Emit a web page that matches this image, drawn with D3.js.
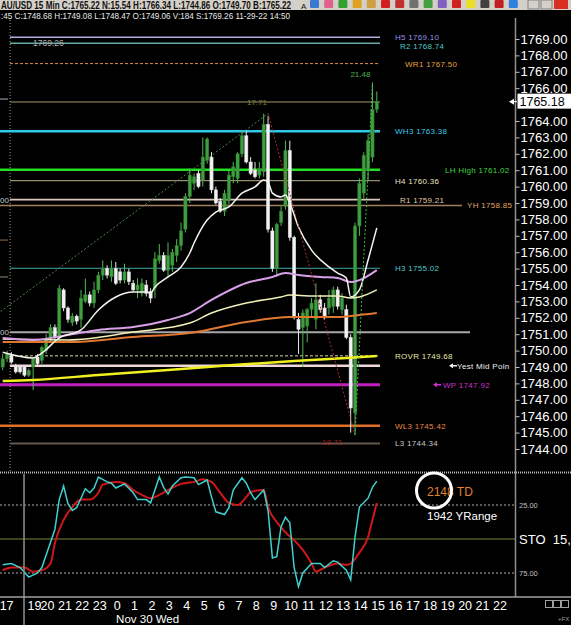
<!DOCTYPE html>
<html><head><meta charset="utf-8">
<script src="https://cdn.jsdelivr.net/npm/d3@7"></script>
<style>
body{margin:0;background:#000;overflow:hidden}
svg{display:block}
text{font-family:"Liberation Sans",Arial,sans-serif}
</style></head>
<body><svg id="c" width="571" height="625"></svg>
<script>
// ---------------- DATA ----------------
const barOpen  = [1749.0,1749.5,1749.7,1749.1,1749.0,1749.0,1748.5,1749.0,1749.6,1749.4,1750.0,1750.7,1751.4,1750.8,1753.7,1752.6,1751.7,1752.1,1751.9,1753.0,1753.4,1752.9,1753.7,1754.6,1755.0,1754.5,1755.0,1754.8,1754.3,1754.8,1754.1,1753.7,1753.5,1754.0,1753.6,1753.8,1755.5,1755.8,1754.9,1755.2,1755.8,1756.4,1757.4,1759.4,1760.2,1760.8,1760.4,1761.6,1761.8,1759.8,1759.1,1758.5,1759.2,1760.6,1760.5,1762.0,1763.1,1761.5,1761.0,1760.7,1760.9,1763.8,1757.3,1755.0,1757.8,1758.8,1762.2,1756.9,1751.9,1751.4,1751.5,1752.5,1751.9,1753.1,1752.6,1752.6,1752.7,1753.7,1752.5,1752.5,1750.8,1746.2,1757.6,1759.6,1761.0,1761.8,1764.7];
const barHigh  = [1749.8,1750.0,1749.9,1749.2,1749.1,1749.1,1748.9,1749.6,1749.8,1750.3,1751.0,1751.6,1751.6,1754.0,1753.8,1752.7,1752.3,1752.2,1753.7,1754.4,1753.6,1754.2,1754.8,1755.5,1755.2,1755.5,1755.4,1755.0,1755.3,1755.0,1754.3,1754.4,1754.4,1754.3,1753.8,1756.0,1756.5,1756.0,1756.6,1756.2,1756.8,1757.8,1759.6,1761.1,1760.8,1761.0,1763.0,1763.0,1762.1,1760.0,1759.3,1759.8,1761.0,1761.5,1762.1,1763.4,1763.4,1761.8,1761.5,1761.5,1764.45,1764.3,1757.5,1757.8,1758.8,1762.8,1762.8,1757.0,1752.3,1752.5,1752.6,1753.2,1754.1,1753.4,1752.9,1753.7,1753.9,1753.9,1753.5,1752.8,1751.0,1757.8,1760.5,1762.1,1763.2,1766.34,1765.8];
const barLow   = [1748.8,1749.3,1749.2,1748.6,1748.6,1748.4,1748.4,1747.6,1749.1,1749.2,1749.8,1750.5,1750.6,1750.6,1752.4,1751.7,1751.5,1751.6,1751.4,1752.9,1752.7,1752.6,1753.5,1754.3,1754.4,1754.2,1754.0,1754.1,1754.1,1754.0,1753.6,1753.2,1753.3,1753.3,1752.9,1753.2,1755.3,1754.8,1754.5,1754.8,1755.4,1756.1,1757.2,1759.0,1759.8,1759.9,1760.0,1761.4,1759.6,1758.9,1758.4,1758.2,1758.9,1760.2,1760.2,1761.8,1761.4,1760.7,1760.5,1760.5,1760.6,1757.2,1754.8,1754.5,1757.6,1758.6,1756.7,1751.9,1749.8,1749.0,1750.5,1752.0,1751.3,1752.3,1751.9,1752.2,1752.3,1752.5,1752.2,1750.7,1745.0,1744.86,1757.0,1759.3,1760.4,1761.5,1764.5];
const barClose = [1749.5,1749.8,1749.3,1748.7,1748.7,1748.5,1748.8,1749.5,1749.2,1750.2,1750.7,1751.4,1750.8,1753.8,1752.6,1751.9,1752.1,1751.8,1753.2,1753.4,1752.9,1753.7,1754.6,1755.0,1754.6,1755.0,1754.1,1754.3,1754.8,1754.2,1753.7,1754.0,1754.1,1753.5,1753.2,1755.6,1755.8,1754.9,1755.8,1756.0,1756.4,1757.3,1759.4,1760.7,1760.6,1760.0,1761.8,1762.9,1759.8,1759.0,1758.5,1759.6,1760.7,1761.2,1762.0,1763.1,1761.5,1760.8,1760.6,1761.1,1763.8,1757.4,1755.0,1757.7,1758.5,1762.2,1756.9,1752.0,1751.3,1752.3,1752.5,1752.9,1753.1,1752.5,1752.0,1753.2,1753.7,1752.7,1753.2,1750.8,1746.5,1757.6,1760.2,1761.9,1762.8,1764.7,1765.18];

// moving averages: [bar index, price]
const maWhite  = [[0,1749.9],[7,1749.55],[9,1749.85],[13,1750.77],[18,1751.26],[22,1752.48],[26,1753.27],[30,1753.57],[33,1753.57],[34,1753.51],[35,1753.88],[38,1754.49],[41,1755.1],[43,1755.95],[44,1756.56],[47,1757.96],[49,1758.45],[52,1758.76],[55,1759.6],[58,1759.98],[60,1760.4],[61,1760.28],[62,1759.6],[64,1759.37],[65,1759.49],[66,1759.0],[68,1757.54],[71,1756.13],[75,1755.1],[77,1754.73],[79,1754.43],[80,1753.27],[82,1753.7],[84,1755.52],[86,1757.48]];
const maPink   = [[0,1750.77],[7,1750.65],[15,1750.95],[22,1751.26],[30,1751.44],[38,1751.87],[43,1752.29],[48,1753.09],[56,1754.12],[62,1754.49],[65,1754.73],[68,1754.61],[73,1754.49],[77,1754.43],[80,1754.18],[82,1754.3],[86,1754.91]];
const maCream  = [[0,1750.7],[15,1750.65],[30,1751.13],[43,1751.68],[48,1752.29],[56,1752.9],[64,1753.27],[66,1753.39],[71,1753.33],[77,1753.33],[80,1753.21],[82,1753.27],[86,1753.7]];
const maOrange = [[0,1750.52],[15,1750.52],[30,1750.83],[43,1751.07],[56,1751.74],[66,1752.05],[77,1752.05],[82,1752.17],[86,1752.29]];
const maYellow = [[0,1748.15],[7,1748.21],[22,1748.51],[38,1748.82],[53,1749.12],[67,1749.37],[79,1749.55],[86,1749.67]];

// pivot levels
const levelNames  = ["H5","R2","WR1","WH3","LH High","H4","R1","YH","H3","ROVR","Yest Mid Poin","WP","WL3","L3"];
const levelValues = [1769.10,1768.74,1767.50,1763.38,1761.02,1760.36,1759.21,1758.85,1755.02,1749.68,1749.08,1747.92,1745.42,1744.34];
const extraLevels = [1765.16,1751.12];
const stubLevels  = [1765.34,1756.74,1754.49];
const sLabel = "1769.26";

// swing lines: [bar index, price]
const swingPoints = [[-33,1746.0],[61,1764.45],[81,1744.86],[85,1766.34]];
const swingLabels = ["17.71","-18.71","21.48"];

// stochastic: [bar index, value]
const stoK = [[0,69],[2,68],[4,71],[6,78],[8,75],[9,71],[12,43],[13,21],[14,11],[15,24],[16,29],[17,27],[19,13],[20,16],[21,12.5],[22,4.4],[24,8],[25,9],[26,12.5],[28,9.5],[30,16],[31,21],[33,21],[34,23.5],[36,4.4],[37,12],[38,17],[39,11],[41,5],[42,4.4],[44,5],[45,10],[47,6.6],[48,19],[49,30],[51,32],[52,27],[53,14],[55,5],[56,9],[57,16],[58,21],[60,14],[61,29],[62,64],[63,63],[64,41],[65,34],[66,38],[67,71],[68,85],[69,75],[71,68],[73,68],[74,71],[76,66],[77,67],[79,73],[80,80],[81,48.5],[82,26.5],[84,20],[85,12],[86,7.4]];
const stoD = [[0,73],[2,71],[5,71],[7,74],[9,73],[11,68],[12,53],[14,36],[16,26.5],[18,21],[20,21],[22,16],[23,10],[26,8],[28,9],[30,14],[32,17.6],[34,20],[36,17.6],[38,14],[41,9.5],[44,8],[46,6],[48,8],[50,16],[52,23.5],[54,25],[56,19],[57,15.4],[60,14],[61,26.5],[63,37.5],[65,45],[67,51],[69,58],[71,68],[72,74],[74,71],[77,68],[79,69],[80,68],[82,60],[84,48.5],[85,36],[86,23.5]];
const stoLevels = [25,50,75];

// price axis ticks (1765.00 is covered by the last-price box)
const priceTicks = [1744,1745,1746,1747,1748,1749,1750,1751,1752,1753,1754,1755,1756,1757,1758,1759,1760,1761,1762,1763,1764,1766,1767,1768,1769];

// time axis
const timeLabels = ["17","19","20","21","22","23","0","1","2","3","4","5","6","7","8","9","10","11","12","13","14","15","16","17","18","19","20","21","22"];
const timeHours  = [-6.35,-4.75,-4,-3,-2,-1,0,1,2,3,4,5,6,7,8,9,10,11,12,13,14,15,16,17,18,19,20,21,22];
const sessionBreakHour = -5.35;
const dateLabel = "Nov 30 Wed";

const headerLine1 = "AU/USD 15 Min C:1765.22 N:15.54 H:1766.34 L:1744.86 O:1749.70 B:1765.22";
const headerLine2 = ":45 C:1748.68 H:1749.08 L:1748.47 O:1749.06 V:184 S:1769.26 11-29-22 14:50";
const lastPrice = 1765.18;
const tdText = ["2148","TD"], yRangeText = "1942 YRange";

// ---------------- DRAW ----------------
const svg = d3.select("#c");
const x = d3.scaleLinear().domain([0,86]).range([2.7,376.8]);
const y = d3.scaleLinear().domain([1744,1769]).range([449,39]);
const yo = d3.scaleLinear().domain([0,100]).range([471,607]);
const hourX = h => x(26.3 + 4*h);

svg.append("rect").attr("width",571).attr("height",625).attr("fill","#000");
const defs = svg.append("defs");
defs.append("clipPath").attr("id","mainClip").append("rect").attr("x",0).attr("y",20).attr("width",515).attr("height",451);
defs.append("clipPath").attr("id","oscClip").append("rect").attr("x",0).attr("y",474).attr("width",515).attr("height",122);

// header
svg.append("rect").attr("x",0).attr("y",0).attr("width",571).attr("height",10).attr("fill","#d4d0c8");
svg.append("text").attr("transform","translate(1,8.5) scale(1,1.3)").attr("font-size",7.8).attr("font-weight","bold").attr("fill","#101010")
  .attr("textLength",290).attr("lengthAdjust","spacingAndGlyphs").text(headerLine1);
svg.append("text").attr("x",301).attr("y",8.5).attr("font-size",8).attr("fill","#101010").text("A");
const iconColors = ["#3a7ad0","#e06090","#30a030","#e0a020","#d0a040","#d02020","#c03030","#707070","#40a040","#8060c0","#d02020","#e8e020","#404040","#c02020","#3080e0"];
iconColors.forEach((c,i)=>{
  svg.append("rect").attr("x",310+i*14.2).attr("y",0).attr("width",9).attr("height",8).attr("fill",c).attr("rx",1);
});
[528,541].forEach(px=>svg.append("rect").attr("x",px).attr("y",0).attr("width",11).attr("height",9).attr("fill","#d4d0c8").attr("stroke","#808080"));
svg.append("rect").attr("x",554).attr("y",0).attr("width",14).attr("height",9).attr("fill","#d83020");
svg.append("text").attr("x",1).attr("y",18.5).attr("font-size",9.5).attr("fill","#e8e8e8")
  .attr("textLength",289).attr("lengthAdjust","spacingAndGlyphs").text(headerLine2);

// ---------- main panel ----------
const main = svg.append("g").attr("clip-path","url(#mainClip)");

main.append("line").attr("x1",x(1.7)).attr("x2",x(1.7)).attr("y1",20).attr("y2",471)
  .attr("stroke","#a0a0a0").attr("stroke-dasharray","1,2");

const stubColors = ["#9090a0","#806040","#807060"];
stubLevels.forEach((v,i)=>main.append("line").attr("x1",0).attr("x2",8).attr("y1",y(v)).attr("y2",y(v)).attr("stroke",stubColors[i]).attr("stroke-width",1.2));
[levelValues[6], extraLevels[1]].forEach(v=>main.append("text").attr("x",0).attr("y",y(v)+3).attr("font-size",8).attr("fill","#c8c8c8").text("00"));

const lvlStyle = {
  "H5":{c:"#b8a8e0",w:1.5,x0:10,x1:380,lc:"#9a90e8",lx:395},
  "R2":{c:"#6aa8a8",w:1.5,x0:10,x1:380,lc:"#50c8c8",lx:400,dy:3},
  "WR1":{c:"#e09040",w:1,x0:10,x1:380,dash:"3,2",lc:"#e0a040",lx:405},
  "WH3":{c:"#30c8e8",w:2.5,x0:0,x1:380,lc:"#40c8e8",lx:395},
  "LH High":{c:"#20e020",w:2.5,x0:0,x1:380,lc:"#40d840",lx:445},
  "H4":{c:"#b8b088",w:1,x0:10,x1:380,lc:"#e8e0c0",lx:395},
  "R1":{c:"#d8c8c0",w:1.8,x0:10,x1:380,lc:"#e0c8a8",lx:400},
  "YH":{c:"#a08060",w:1.5,x0:0,x1:462,lc:"#e0a868",lx:467},
  "H3":{c:"#40a8a8",w:1,x0:10,x1:380,lc:"#50c8d0",lx:395},
  "ROVR":{c:"#d8d8a0",w:1,x0:10,x1:380,dash:"3,2",lc:"#e8e8a8",lx:395},
  "Yest Mid Poin":{c:"#f0d8d8",w:2.5,x0:10,x1:380,lc:"#f0f0f0",lx:457,arrow:449,noVal:true},
  "WP":{c:"#c020c0",w:3,x0:0,x1:380,lc:"#d030d0",lx:443,arrow:433},
  "WL3":{c:"#e07028",w:2.5,x0:0,x1:380,lc:"#e88848",lx:395},
  "L3":{c:"#605850",w:2,x0:10,x1:380,lc:"#c8c8c8",lx:395}
};
const extraStyle = [{c:"#a89868",w:1,x0:10,x1:380},{c:"#a8a8a8",w:2,x0:10,x1:470}];
extraLevels.forEach((v,i)=>{
  const s=extraStyle[i];
  main.append("line").attr("x1",s.x0).attr("x2",s.x1).attr("y1",y(v)).attr("y2",y(v)).attr("stroke",s.c).attr("stroke-width",s.w);
});
levelNames.forEach((n,i)=>{
  const s=lvlStyle[n], v=levelValues[i];
  const l=main.append("line").attr("x1",s.x0).attr("x2",s.x1).attr("y1",y(v)).attr("y2",y(v)).attr("stroke",s.c).attr("stroke-width",s.w);
  if(s.dash) l.attr("stroke-dasharray",s.dash);
  if(s.arrow!==undefined){
    const ay=y(v);
    main.append("path").attr("d",`M${s.arrow},${ay} l4,-2.5 v1.8 h4 v1.4 h-4 v1.8 z`).attr("fill",s.lc);
  }
  main.append("text").attr("x",s.lx).attr("y",y(v)+3+(s.dy||0)).attr("font-size",8).attr("fill",s.lc)
    .attr("letter-spacing",0.3).text(s.noVal? n : n+" "+d3.format(".2f")(v));
});
main.append("text").attr("x",33).attr("y",y(levelValues[1])+3).attr("font-size",8.5).attr("fill","#b0b0b0").text(sLabel);

// candles
const idx = d3.range(barOpen.length);
const cg = main.append("g");
idx.forEach(i=>{
  const up = barClose[i] >= barOpen[i];
  const col = up ? "#3f9f3f" : "#f2f2f2";
  const wick = up ? "#55b855" : "#e8e8e8";
  const cx = x(i);
  cg.append("line").attr("x1",cx).attr("x2",cx).attr("y1",y(barHigh[i])).attr("y2",y(barLow[i])).attr("stroke",wick).attr("stroke-width",1);
  const top = y(Math.max(barOpen[i],barClose[i])), bot = y(Math.min(barOpen[i],barClose[i]));
  cg.append("rect").attr("x",cx-1.6).attr("y",top).attr("width",3.2).attr("height",Math.max(1,bot-top))
    .attr("fill",col).attr("stroke",up?"#2e7d2e":"#d8d8d8").attr("stroke-width",0.5);
});

// moving averages
const maLine = d3.line().x(d=>x(d[0])).y(d=>y(d[1])).curve(d3.curveMonotoneX);
[[maYellow,"#f0f020",2.5],[maOrange,"#e07830",2],[maCream,"#f0f0b8",1.5],[maPink,"#d8a0e8",2],[maWhite,"#f4f4ec",1.5]].forEach(([d,c,w])=>{
  main.append("path").attr("d",maLine(d)).attr("fill","none").attr("stroke",c).attr("stroke-width",w);
});

// swing lines
const swingCols = ["#4a8a4a","#b03030","#48b848"];
for(let k=0;k<swingPoints.length-1;k++){
  const a=swingPoints[k], b=swingPoints[k+1];
  main.append("line").attr("x1",x(a[0])).attr("y1",y(a[1])).attr("x2",x(b[0])).attr("y2",y(b[1]))
    .attr("stroke",swingCols[k]).attr("stroke-width",1).attr("stroke-dasharray","2,2");
}
const swingLabOff = [[-11,-9],[-24,10],[-12,-6]];
const swingLabCol = ["#6a8a3a","#a02020","#50b050"];
swingLabels.forEach((t,k)=>{
  const p=swingPoints[k+1];
  main.append("text").attr("x",x(p[0])+swingLabOff[k][0]).attr("y",y(p[1])+swingLabOff[k][1]).attr("text-anchor","middle")
    .attr("font-size",8).attr("fill",swingLabCol[k]).text(t);
});

// separators
svg.append("line").attr("x1",0).attr("x2",571).attr("y1",472.5).attr("y2",472.5).attr("stroke","#c0c0c0").attr("stroke-width",2).attr("stroke-dasharray","1,1");
svg.append("line").attr("x1",515.5).attr("x2",515.5).attr("y1",18).attr("y2",597).attr("stroke","#909090").attr("stroke-width",1.5);

// price axis
const ax = d3.axisRight(y).tickValues(priceTicks).tickFormat(d3.format(".2f")).tickSize(4).tickPadding(1);
const axg = svg.append("g").attr("transform","translate(515.5,0)").call(ax);
axg.select(".domain").remove();
axg.selectAll(".tick line").attr("stroke","#c0c0c0");
axg.selectAll(".tick text").attr("fill","#ffffff").attr("font-size",13).attr("font-family","Liberation Sans, Arial, sans-serif");
const ly = y(lastPrice);
svg.append("rect").attr("x",517.5).attr("y",ly-8).attr("width",53.5).attr("height",15).attr("fill","#ffffff");
svg.append("text").attr("x",519.5).attr("y",ly+4.6).attr("font-size",12.5).attr("fill","#000").text(d3.format(".2f")(lastPrice));
svg.append("path").attr("d",`M509,${ly} l5,-3 v6 z`).attr("fill","#ffffff");
svg.append("line").attr("x1",512).attr("x2",517).attr("y1",ly).attr("y2",ly).attr("stroke","#fff");

// ---------- oscillator ----------
const osc = svg.append("g").attr("clip-path","url(#oscClip)");
stoLevels.forEach(v=>{
  const l = osc.append("line").attr("x1",0).attr("x2",515).attr("y1",yo(v)).attr("y2",yo(v));
  if(v===50) l.attr("stroke","#7a8a3a").attr("stroke-width",1);
  else l.attr("stroke","#b0b0b0").attr("stroke-dasharray","2,2");
});
osc.append("path").attr("d",d3.line().x(d=>x(d[0])).y(d=>yo(d[1])).curve(d3.curveMonotoneX)(stoD)).attr("fill","none").attr("stroke","#d01818").attr("stroke-width",2);
osc.append("path").attr("d",d3.line().x(d=>x(d[0])).y(d=>yo(d[1]))(stoK)).attr("fill","none").attr("stroke","#40d0d0").attr("stroke-width",1.5);
[25,75].forEach(v=>svg.append("text").attr("x",519).attr("y",yo(v)+3).attr("font-size",7.5).attr("fill","#c0c0c0").text(d3.format(".2f")(v)));
svg.append("text").attr("x",519).attr("y",yo(50)+5).attr("font-size",13).attr("fill","#fff").attr("xml:space","preserve").text("STO  15,");

svg.append("text").attr("x",427).attr("y",496).attr("font-size",12).attr("fill","#e08030").attr("xml:space","preserve").text(tdText[0]+" "+tdText[1]);
svg.append("circle").attr("cx",434).attr("cy",490.5).attr("r",17.5).attr("fill","none").attr("stroke","#ffffff").attr("stroke-width",3);
svg.append("text").attr("x",427).attr("y",520).attr("font-size",11.5).attr("fill","#ffffff").text(yRangeText);

svg.append("line").attr("x1",hourX(sessionBreakHour)).attr("x2",hourX(sessionBreakHour)).attr("y1",474).attr("y2",625).attr("stroke","#909090").attr("stroke-width",1.5);

// ---------- time axis ----------
svg.append("line").attr("x1",0).attr("x2",571).attr("y1",597).attr("y2",597).attr("stroke","#a0a0a0").attr("stroke-width",1.5);
timeLabels.forEach((t,i)=>{
  svg.append("text").attr("x",hourX(timeHours[i])).attr("y",609.5).attr("text-anchor","middle").attr("font-size",12.5).attr("fill","#fff").text(t);
});
svg.append("text").attr("x",hourX(0)-1).attr("y",622.8).attr("font-size",11.5).attr("fill","#fff").text(dateLabel);
[545,553,561].forEach(px=>svg.append("rect").attr("x",px+0.5).attr("y",600.5).attr("width",7).attr("height",7).attr("fill","none").attr("stroke","#a0a0a0"));
svg.append("text").attr("x",558).attr("y",621).attr("font-size",6).attr("fill","#a0a0a0").text("+FX");
</script>
</body></html>
